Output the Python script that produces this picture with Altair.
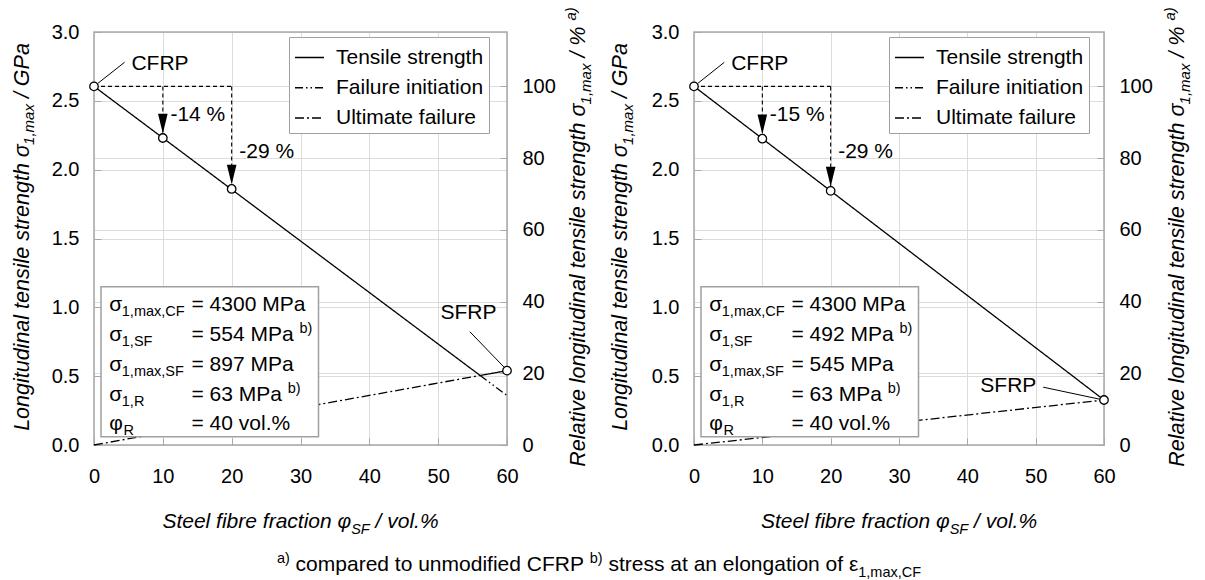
import altair as alt
import pandas as pd

FONT = "Liberation Sans"
GRID = "#dcdcdc"
FRAME = "#a8a8a8"
BOXC = "#a0a0a0"
TICKC = "#a8a8a8"

# ---------------- data ----------------
series = ["Tensile strength", "Failure initiation", "Ultimate failure"]
dash_patterns = [[1, 0], [8, 3, 1.5, 3, 1.5, 3], [9, 3, 2, 3]]

marker_x = [0, 10, 20]
left_marker_y = [2.605, 2.23, 1.86]
right_marker_y = [2.605, 2.225, 1.846]
left_drop_labels = ["-14 %", "-29 %"]
right_drop_labels = ["-15 %", "-29 %"]

left_tensile_x = [0, 56.1, 60]
left_tensile_y = [2.605, 0.505, 0.54]
left_init_x = [56.1, 60]
left_init_y = [0.505, 0.36]
left_ult_x = [0, 56.1]
left_ult_y = [0, 0.505]

right_tensile_x = [0, 60]
right_tensile_y = [2.605, 0.327]
right_init_x = []
right_init_y = []
right_ult_x = [0, 60]
right_ult_y = [0, 0.327]

left_sfrp = [60, 0.54]
right_sfrp = [60, 0.327]

x_ticks = [0, 10, 20, 30, 40, 50, 60]
y_ticks = [0, 0.5, 1.0, 1.5, 2.0, 2.5, 3.0]
pct_ticks = [0, 20, 40, 60, 80, 100]

box_symbols = ["σ", "σ", "σ", "σ", "φ"]
box_subs = ["1,max,CF", "1,SF", "1,max,SF", "1,R", "R"]
left_box_values = ["= 4300 MPa", "= 554 MPa", "= 897 MPa", "= 63 MPa", "= 40 vol.%"]
right_box_values = ["= 4300 MPa", "= 492 MPa", "= 545 MPa", "= 63 MPa", "= 40 vol.%"]
box_notes = ["", "b)", "", "b)", ""]

# ---------------- layout ----------------
OX, OY = 94, 32
W, H = 413, 413
SHIFT = 600
XRANGE = {0: [0, 413], 1: [600, 1010]}
PCT_MAX = 115.2
FS = 21      # main text size
SS = 14.5    # sub/superscript size
TS = 21.5    # rotated titles
TICK = 7

CW = {' ': 278, '!': 278, '%': 889, '(': 333, ')': 333, ',': 278, '-': 333, '.': 278,
      '/': 278, '=': 584, 'σ': 571, 'φ': 652, 'ε': 446}
for c in "0123456789":
    CW[c] = 556
CW.update(dict(zip("ABCDEFGHIJKLMNOPQRSTUVWXYZ",
                   [667, 667, 722, 722, 667, 611, 778, 722, 278, 500, 667, 556, 833, 722, 778,
                    667, 778, 722, 667, 611, 722, 667, 944, 667, 667, 611])))
CW.update(dict(zip("abcdefghijklmnopqrstuvwxyz",
                   [556, 556, 500, 556, 556, 278, 556, 556, 222, 222, 500, 222, 833, 556, 556,
                    556, 556, 333, 500, 278, 556, 500, 722, 500, 500, 500])))


def tw(s, size):
    return sum(CW.get(c, 556) for c in s) / 1000.0 * size


ONE = pd.DataFrame({"k": [0]})


def ptext(x, y, text, size, italic=False, angle=0, align="left", baseline="alphabetic"):
    kw = dict(text=text, fontSize=size, font=FONT, color="black", align=align,
              baseline=baseline)
    if italic:
        kw["fontStyle"] = "italic"
    if angle:
        kw["angle"] = angle
    return alt.Chart(ONE).mark_text(**kw).encode(x=alt.value(x), y=alt.value(y))


def rich_h(x_center, y_base, pieces):
    total = sum(tw(t, s) for t, s, d, i in pieces)
    x = x_center - total / 2
    out = []
    for t, s, d, i in pieces:
        lead = len(t) - len(t.lstrip(" "))
        core = t.strip(" ")
        out.append(ptext(x + tw(" " * lead, s), y_base + d, core, s, italic=i))
        x += tw(t, s)
    return out


def rich_v(x_base, y_center, pieces):
    total = sum(tw(t, s) for t, s, d, i in pieces)
    y = y_center + total / 2
    out = []
    for t, s, d, i in pieces:
        lead = len(t) - len(t.lstrip(" "))
        core = t.strip(" ")
        out.append(ptext(x_base + d, y - tw(" " * lead, s), core, s, italic=i, angle=270))
        y -= tw(t, s)
    return out


def axis_common(**kw):
    base = dict(title=None, domain=False, ticks=False, labelFont=FONT, labelFontSize=20,
                labelColor="black", gridColor=GRID, gridWidth=1, zindex=0,
                labelOverlap=False, labelFlush=False)
    base.update(kw)
    return alt.Axis(**base)


def tick_axis(values, orient, offset):
    return alt.Axis(title=None, domain=False, grid=False, labels=False, ticks=True,
                    tickSize=TICK, tickColor=TICKC, tickWidth=1, values=values,
                    orient=orient, offset=offset, zindex=0)


def build_panel(p, tx, ty, ix, iy, ux, uy, my, drops, sfrp, box_values, sfrp_text, sfrp_leader):
    off = SHIFT * p
    x0, x1 = XRANGE[p]
    sx = alt.Scale(domain=[0, 60], range=XRANGE[p], nice=False, zero=False)
    sy = alt.Scale(domain=[0, 3], nice=False, zero=False)
    sp = alt.Scale(domain=[0, PCT_MAX], nice=False, zero=False)
    ax = axis_common(values=x_ticks, orient="bottom", grid=True, labelPadding=21)
    ay_kw = dict(values=y_ticks, format=".1f", orient="left", grid=True, labelPadding=15)
    if p == 1:
        ay_kw["offset"] = -SHIFT
    ay = axis_common(**ay_kw)

    def X(f):
        return alt.X(f + ":Q", scale=sx, axis=ax)

    def Xn(f):
        return alt.X(f + ":Q", scale=sx, axis=None)

    def Y(f):
        return alt.Y(f + ":Q", scale=sy, axis=ay)

    layers = []
    frame_df = pd.DataFrame({"x": [0], "x2": [60], "y": [0], "y2": [3]})
    layers.append(alt.Chart(frame_df).mark_rect(fillOpacity=0, stroke=FRAME, strokeWidth=1.5)
                  .encode(x=X("x"), x2="x2", y=Y("y"), y2="y2"))

    rows = []
    for name, xs, ys in [(series[0], tx, ty), (series[1], ix, iy), (series[2], ux, uy)]:
        for i, (a, b) in enumerate(zip(xs, ys)):
            rows.append({"series": name, "x": a, "y": b, "i": i})
    line_df = pd.DataFrame(rows)
    legend = alt.Legend(title=None, orient="none", legendX=195 + off, legendY=5,
                        symbolType="stroke", symbolSize=841, symbolStrokeWidth=1.3,
                        symbolStrokeColor="black", labelFont=FONT, labelFontSize=FS,
                        labelColor="black", rowPadding=4.25, padding=5, labelOffset=11,
                        strokeColor=BOXC, fillColor="white", cornerRadius=0,
                        labelLimit=400, labelExpr="datum.label + '\u00a0\u00a0'")
    layers.append(alt.Chart(line_df).mark_line(color="black", strokeWidth=1.3).encode(
        x=X("x"), y=Y("y"),
        strokeDash=alt.StrokeDash("series:N", scale=alt.Scale(domain=series, range=dash_patterns),
                                  legend=legend),
        order="i:Q"))

    guide_df = pd.DataFrame({"x": [0, 10, 20], "x2": [20, 10, 20],
                             "y": [my[0], my[0], my[0]], "y2": [my[0], my[1], my[2]]})
    layers.append(alt.Chart(guide_df).mark_rule(color="black", strokeWidth=1.1, strokeDash=[4, 3])
                  .encode(x=X("x"), x2="x2", y=Y("y"), y2="y2"))

    lead_df = pd.DataFrame({"x": [0.51, sfrp_leader[0]], "y": [2.625, sfrp_leader[1]],
                            "x2": [4.44, sfrp_leader[2]], "y2": [2.78, sfrp_leader[3]]})
    layers.append(alt.Chart(lead_df).mark_rule(color="black", strokeWidth=1)
                  .encode(x=X("x"), x2="x2", y=Y("y"), y2="y2"))

    arrow_df = pd.DataFrame({"x": marker_x[1:], "y": my[1:]})
    layers.append(alt.Chart(arrow_df).mark_point(
        shape="M -0.4 -2.02 L 0.4 -2.02 L 0 -0.37 Z", filled=True, fill="black",
        strokeOpacity=0, size=576, opacity=1).encode(x=X("x"), y=Y("y")))

    pt_df = pd.DataFrame({"x": marker_x + [sfrp[0]], "y": my + [sfrp[1]]})
    layers.append(alt.Chart(pt_df).mark_point(
        shape="circle", filled=True, fill="white", stroke="black", strokeWidth=1.3,
        size=72, opacity=1).encode(x=X("x"), y=Y("y")))

    drop_df = pd.DataFrame({"x": [11.1, 21.1], "y": [2.40, 2.126], "t": drops})
    layers.append(alt.Chart(drop_df).mark_text(font=FONT, fontSize=FS, align="left",
                                              baseline="middle", color="black")
                  .encode(x=X("x"), y=Y("y"), text="t:N"))

    cfrp_df = pd.DataFrame({"x": [5.44], "y": [2.77], "t": ["CFRP"]})
    layers.append(alt.Chart(cfrp_df).mark_text(font=FONT, fontSize=FS, align="left",
                                              baseline="middle", color="black")
                  .encode(x=X("x"), y=Y("y"), text="t:N"))
    sfrp_df = pd.DataFrame({"x": [sfrp_text[0]], "y": [sfrp_text[1]], "t": ["SFRP"]})
    layers.append(alt.Chart(sfrp_df).mark_text(font=FONT, fontSize=FS, align="center",
                                              baseline="middle", color="black")
                  .encode(x=X("x"), y=Y("y"), text="t:N"))

    # info box
    layers.append(alt.Chart(ONE).mark_rect(fill="white", stroke=BOXC, strokeWidth=1.5)
                  .encode(x=alt.value(7 + off), x2=alt.value(224.5 + off),
                          y=alt.value(254.7), y2=alt.value(404.7)))
    xs_sym = 15.3 + off
    xs_eq = 97.5 + off
    for r in range(5):
        yb = 279 + 29.85 * r
        layers.append(ptext(xs_sym, yb, box_symbols[r], FS))
        layers.append(ptext(xs_sym + tw(box_symbols[r], FS) + 0.5, yb + 5, box_subs[r], SS))
        layers.append(ptext(xs_eq, yb, box_values[r], FS))
        if box_notes[r]:
            layers.append(ptext(xs_eq + tw(box_values[r] + " ", FS), yb - 8, box_notes[r], SS))

    # axis titles
    layers += rich_v(-65.5 + off - (1.5 if p else 0), 205,
                     [("Longitudinal tensile strength σ", TS, 0, True),
                      ("1,max", 15, 5.5, True),
                      (" / GPa", TS, 0, True)])
    layers += rich_v(491 + off - (1 if p else 0), 205,
                     [("Relative longitudinal tensile strength σ", TS, 0, True),
                      ("1,max", 15, 5.5, True),
                      (" / % ", TS, 0, True),
                      ("a)", 15, -9, True)])
    layers += rich_h(206.5 + off - (1.5 if p else 0), 496,
                     [("Steel fibre fraction φ", FS, 0, True),
                      ("SF", SS, 5.5, True),
                      (" / vol.%", FS, 0, True)])
    if p == 0:
        layers += rich_h(505, 539, [("a)", SS, -8, False),
                                    (" compared to unmodified CFRP ", FS, 0, False),
                                    ("b)", SS, -8, False),
                                    (" stress at an elongation of ε", FS, 0, False),
                                    ("1,max,CF", SS, 5.5, False)])

    main = alt.layer(*layers)

    pct_df = pd.DataFrame({"x": [0], "p": [0], "y": [0]})
    extra = []
    if p == 0:
        ap = axis_common(values=pct_ticks, orient="right", grid=True, labelPadding=15)
        extra.append(alt.Chart(pct_df).mark_point(opacity=0).encode(
            x=Xn("x"), y=alt.Y("p:Q", scale=sp, axis=ap)))
    else:
        ap_r = axis_common(values=pct_ticks, orient="right", grid=False, labelPadding=15,
                           offset=x1 - W)
        ap_g = axis_common(values=pct_ticks, orient="left", grid=True, labels=False,
                           offset=-SHIFT)
        extra.append(alt.Chart(pct_df).mark_point(opacity=0).encode(
            x=Xn("x"), y=alt.Y("p:Q", scale=sp, axis=ap_r)))
        extra.append(alt.Chart(pct_df).mark_point(opacity=0).encode(
            x=Xn("x"), y=alt.Y("p:Q", scale=sp, axis=ap_g)))
    # inward tick marks on all four sides
    extra.append(alt.Chart(pct_df).mark_point(opacity=0).encode(
        x=Xn("x"), y=alt.Y("y:Q", scale=sy, axis=tick_axis(y_ticks, "right", x0 - W))))
    extra.append(alt.Chart(pct_df).mark_point(opacity=0).encode(
        x=Xn("x"), y=alt.Y("p:Q", scale=sp, axis=tick_axis(pct_ticks, "left", -x1))))
    extra.append(alt.Chart(pct_df).mark_point(opacity=0).encode(
        x=alt.X("x:Q", scale=sx, axis=tick_axis(x_ticks, "top", -H)),
        y=alt.Y("y:Q", scale=sy, axis=None)))
    return alt.layer(main, *extra).resolve_scale(y="independent", x="independent")


left = build_panel(0, left_tensile_x, left_tensile_y, left_init_x, left_init_y,
                   left_ult_x, left_ult_y, left_marker_y, left_drop_labels, left_sfrp,
                   left_box_values, [54.4, 0.957], [54.6, 0.823, 59.6, 0.564])
right = build_panel(1, right_tensile_x, right_tensile_y, right_init_x, right_init_y,
                    right_ult_x, right_ult_y, right_marker_y, right_drop_labels, right_sfrp,
                    right_box_values, [46.0, 0.429], [51.1, 0.42, 59.35, 0.333])

chart = alt.layer(left, right).resolve_scale(
    x="independent", y="independent", strokeDash="independent"
).properties(
    width=W, height=H,
    padding={"left": OX, "top": OY, "right": 1205 - OX - W, "bottom": 580 - OY - H},
    autosize=alt.AutoSizeParams(type="none"),
).configure_view(stroke=None).configure(background="white")

chart.save("out.html", embed_options={"renderer": "svg", "actions": False})
